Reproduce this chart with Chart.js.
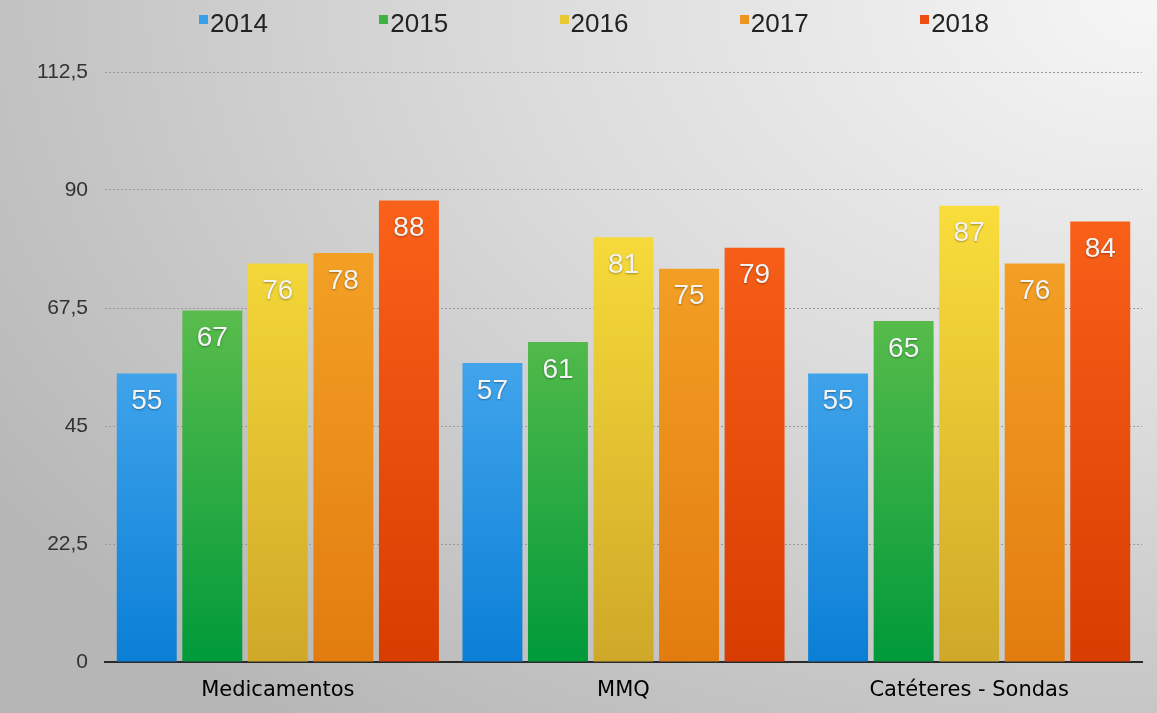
<!DOCTYPE html>
<html>
<head>
<meta charset="utf-8">
<script src="https://cdn.jsdelivr.net/npm/chart.js@4"></script>
<style>
  html, body { margin: 0; padding: 0; }
  body {
    width: 1157px; height: 713px; overflow: hidden; position: relative;
    background: radial-gradient(ellipse 120% 130% at 100% 0%, #f6f6f6 0%, #dcdcdc 45%, #b6b6b6 100%);
    font-family: "Liberation Sans", Arial, sans-serif;
  }
  #legend {
    position: absolute; left: 199px; width: 790px; top: 8px;
    display: flex; justify-content: space-between;
  }
  #legend span { font-size: 26px; color: #222; display: flex; align-items: flex-start; }
  #legend i { display: inline-block; width: 9px; height: 9px; margin: 7px 2px 0 0; }
  #wrap { position: absolute; left: 0; top: 0; width: 1157px; height: 713px; }
</style>
</head>
<body>
<div id="wrap"><canvas id="chart"></canvas></div>
<div id="legend"></div>
<script>
'use strict'

let categories = ['Medicamentos', 'MMQ', 'Catéteres - Sondas'];
let years = ['2014', '2015', '2016', '2017', '2018'];
let values2014 = [55, 57, 55];
let values2015 = [67, 61, 65];
let values2016 = [76, 81, 87];
let values2017 = [78, 75, 76];
let values2018 = [88, 79, 84];
let tickLabels = ['0', '22,5', '45', '67,5', '90', '112,5'];

let topColors = ['#62bbf8', '#7ac952', '#fbe03c', '#f6a628', '#fb631b'];
let bottomColors = ['#0a7fd6', '#009a3a', '#cfa828', '#e27c10', '#d93c00'];
let legendColors = ['#3a9ee8', '#3cb244', '#e8c830', '#ee9420', '#ee4e10'];

let series = [values2014, values2015, values2016, values2017, values2018];

function barGradient(i) {
    return function (ctx) {
        let area = ctx.chart.chartArea;
        if (!area) {
            return topColors[i];
        }
        let g = ctx.chart.ctx.createLinearGradient(0, area.top + 110, 0, area.bottom);
        g.addColorStop(0, topColors[i]);
        g.addColorStop(1, bottomColors[i]);
        return g;
    };
}

let datasets = [];
for (let i = 0; i < years.length; i++) {
    datasets.push({
        label: years[i],
        data: series[i],
        backgroundColor: barGradient(i),
        borderWidth: 0
    });
}

// legend as html
let legend = document.getElementById('legend');
for (let i = 0; i < years.length; i++) {
    let span = document.createElement('span');
    let box = document.createElement('i');
    box.style.background = legendColors[i];
    span.appendChild(box);
    span.appendChild(document.createTextNode(years[i]));
    legend.appendChild(span);
}

const valueLabels = {
    id: 'valueLabels',
    afterDatasetsDraw(chart) {
        let c = chart.ctx;
        c.save();
        c.font = '28px "Liberation Sans", Arial, sans-serif';
        c.textAlign = 'center';
        c.textBaseline = 'middle';
        c.fillStyle = '#f4f4f4';
        c.shadowColor = 'rgba(0,0,0,0.35)';
        c.shadowBlur = 2;
        c.shadowOffsetX = 0;
        c.shadowOffsetY = 1;
        chart.data.datasets.forEach(function (ds, di) {
            chart.getDatasetMeta(di).data.forEach(function (bar, j) {
                c.fillText(String(ds.data[j]), bar.x, bar.y + 28);
            });
        });
        c.restore();
    }
};

const config = {
    type: 'bar',
    data: {
        labels: categories,
        datasets: datasets
    },
    options: {
        responsive: false,
        animation: false,
        layout: {
            padding: { top: 72, right: 15, bottom: 0, left: 0 }
        },
        plugins: {
            legend: { display: false },
            tooltip: { enabled: false }
        },
        datasets: {
            bar: {
                categoryPercentage: 0.948,
                barPercentage: 0.915
            }
        },
        scales: {
            x: {
                afterFit: function (scale) { scale.height = 51; },
                grid: { display: false, drawTicks: false },
                border: { display: true, color: '#2a2a2a', width: 2 },
                ticks: {
                    color: '#000',
                    padding: 16,
                    font: { family: '"DejaVu Sans", sans-serif', size: 21 }
                }
            },
            y: {
                min: 0,
                max: 112.5,
                afterFit: function (scale) { scale.width = 105; },
                grid: { color: '#9a9a9a', lineWidth: 1, drawTicks: false },
                border: { display: false, dash: [2, 2] },
                ticks: {
                    stepSize: 22.5,
                    padding: 17,
                    color: '#333',
                    font: { family: '"Liberation Sans", Arial, sans-serif', size: 21 },
                    callback: function (value, index) { return tickLabels[index]; }
                }
            }
        }
    },
    plugins: [valueLabels]
};

let canvas = document.getElementById('chart');
canvas.width = 1157;
canvas.height = 713;
const chart = new Chart(canvas, config);
</script>
</body>
</html>
